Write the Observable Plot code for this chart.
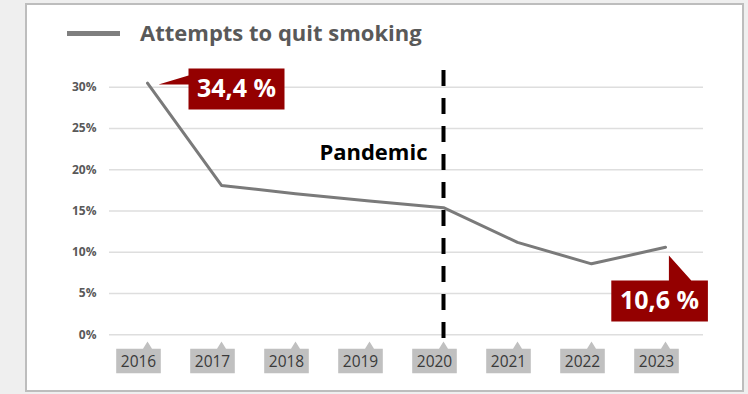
<!DOCTYPE html>
<html>
<head>
<meta charset="utf-8">
<script src="https://cdn.jsdelivr.net/npm/d3@7"></script>
<script src="https://cdn.jsdelivr.net/npm/@observablehq/plot@0.6"></script>
<style>
  html, body { margin: 0; padding: 0; background: #efefef; }
  #wrap { position: relative; width: 748px; height: 394px; overflow: hidden; font-family: "Open Sans", sans-serif; }
  #frame { position: absolute; left: 25px; top: 3px; width: 719px; height: 389px; box-sizing: border-box; border: 2px solid #bdbdbd; background: #fff; }
  #swatch { position: absolute; left: 67px; top: 31px; width: 53px; height: 5px; background: #7f7f7f; }
  #legend { position: absolute; left: 140px; top: 21px; font-size: 22px; line-height: 22px; font-weight: 700; color: #595959; white-space: nowrap; }
  #chart { position: absolute; left: 0; top: 0; }
</style>
</head>
<body>
<div id="wrap">
  <div id="frame"></div>
  <div id="swatch"></div>
  <div id="legend">Attempts to quit smoking</div>
  <div id="chart"></div>
</div>
<script>
// Share of people attempting to quit smoking, per year (%)
const years = ["2016", "2017", "2018", "2019", "2020", "2021", "2022", "2023"];
const values = [34.4, 18.1, 17.1, 16.2, 15.4, 11.2, 8.6, 10.6];
const yTicks = [0, 5, 10, 15, 20, 25, 30];

// Highlighted values with their callout text
const calloutYears = ["2016", "2023"];
const calloutValues = [34.4, 10.6];
const calloutLabels = ["34,4 %", "10,6 %"];

// Marker year for the pandemic
const pandemicYear = "2020";
const pandemicLabel = "Pandemic";

const data = years.map((year, i) => ({year, value: values[i]}));
const callouts = calloutYears.map((year, i) => ({year, value: calloutValues[i], label: calloutLabels[i]}));

// Callout shapes (box plus pointer), drawn relative to the anchor point
const tickTag = {
  draw(ctx) {
    ctx.moveTo(0, 6.7);
    ctx.lineTo(4.5, 14);
    ctx.lineTo(13.3, 14);
    ctx.lineTo(13.3, 38.4);
    ctx.lineTo(-31.3, 38.4);
    ctx.lineTo(-31.3, 14);
    ctx.lineTo(-4.5, 14);
    ctx.closePath();
  }
};
const calloutRight = {
  draw(ctx) {
    ctx.moveTo(11, 1.4);
    ctx.lineTo(41, -7.6);
    ctx.lineTo(41, -14.6);
    ctx.lineTo(137, -14.6);
    ctx.lineTo(137, 26.4);
    ctx.lineTo(41, 26.4);
    ctx.lineTo(41, 1.4);
    ctx.closePath();
  }
};
const calloutBelow = {
  draw(ctx) {
    ctx.moveTo(3.4, 8.2);
    ctx.lineTo(25.8, 33.2);
    ctx.lineTo(42.4, 33.2);
    ctx.lineTo(42.4, 74.2);
    ctx.lineTo(-54.2, 74.2);
    ctx.lineTo(-54.2, 33.2);
    ctx.lineTo(3.4, 33.2);
    ctx.closePath();
  }
};
const shapes = {"2016": calloutRight, "2023": calloutBelow};
const labelOffset = {"2016": [89, 6], "2023": [-6, 54]};

const chart = Plot.plot({
  width: 748,
  height: 394,
  marginLeft: 109,
  marginRight: 45,
  marginTop: 82.6,
  marginBottom: 59.7,
  style: {background: "transparent", fontFamily: "Open Sans, sans-serif", color: "#595959"},
  x: {type: "point", domain: years, padding: 0.5, axis: null},
  y: {domain: [0, 30.5], clamp: true, axis: null},
  marks: [
    Plot.ruleY(yTicks, {stroke: "#dedede", strokeWidth: 1.5}),
    Plot.axisY({
      ticks: yTicks, tickSize: 0, tickPadding: 13, label: null,
      tickFormat: d => d + "%", fontSize: 12, fontWeight: "bold", fill: "#595959"
    }),
    // Year labels in small grey tags below the axis
    Plot.dot(years, {x: d => d, y: () => 0, symbol: tickTag, fill: "#c0c0c0", stroke: "none", r: 5}),
    Plot.text(years, {
      x: d => d, y: () => 0, text: d => d, dx: -9, dy: 27,
      fontSize: 15.5, fill: "#3a3a3a"
    }),
    // Pandemic marker
    Plot.ruleX([pandemicYear], {
      x: d => d, stroke: "#000", strokeWidth: 4, strokeDasharray: "16 12",
      insetTop: -12.6, insetBottom: -3.7
    }),
    Plot.text([pandemicLabel], {
      x: () => pandemicYear, y: () => 22, text: d => d, textAnchor: "end", dx: -16,
      fontSize: 22, fontWeight: "bold", fill: "#000"
    }),
    Plot.line(data, {x: "year", y: "value", stroke: "#7a7a7a", strokeWidth: 3}),
    // Value callouts
    ...callouts.map(c => Plot.dot([c], {
      x: "year", y: "value", symbol: shapes[c.year], fill: "#940000", stroke: "none", r: 5
    })),
    ...callouts.map(c => Plot.text([c], {
      x: "year", y: "value", text: "label",
      dx: labelOffset[c.year][0], dy: labelOffset[c.year][1],
      fontSize: 25, fontWeight: "bold", fill: "#fff"
    }))
  ]
});
document.getElementById("chart").appendChild(chart);
</script>
</body>
</html>
